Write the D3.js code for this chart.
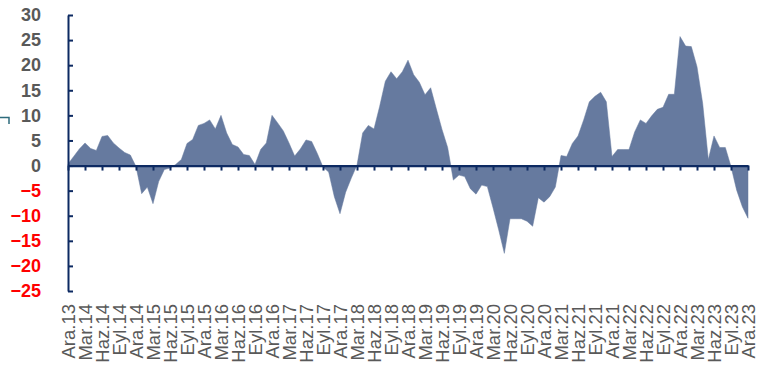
<!DOCTYPE html>
<html>
<head>
<meta charset="utf-8">
<script src="https://cdn.jsdelivr.net/npm/d3@7"></script>
<style>
  html, body { margin: 0; padding: 0; background: #ffffff; }
  svg { display: block; }
  .y-axis text { font-family: "Liberation Sans", Arial, sans-serif; font-weight: bold; font-size: 18px; }
  .x-labels text { font-family: "Liberation Sans", Arial, sans-serif; font-size: 18.5px; fill: #595959; }
</style>
</head>
<body>
<svg id="chart" width="774" height="368"></svg>
<script>
// Monthly values, Ara.13 through Ara.23
const values = [
  0.3, 1.8, 3.3, 4.5, 3.4, 3.0, 5.8, 6.0, 4.5, 3.5, 2.6, 2.1,
  -0.2, -5.6, -4.3, -7.6, -3.2, -0.8, -0.5, 0.2, 1.2, 4.4, 5.2, 8.0,
  8.4, 9.1, 7.3, 10.0, 6.5, 4.2, 3.7, 2.2, 2.0, 0.2, 3.2, 4.5,
  10.0, 8.5, 6.9, 4.5, 1.9, 3.3, 5.1, 4.8, 2.4, -0.3, -1.3, -6.2,
  -9.6, -5.3, -2.5, 0.1, 6.5, 8.0, 7.3, 11.8, 16.8, 18.7, 17.3, 18.7,
  21.0, 18.1, 16.6, 14.1, 15.5, 11.3, 7.2, 3.6, -2.9, -1.9, -2.2, -4.6,
  -5.7, -3.9, -4.2, -8.4, -12.8, -17.5, -10.6, -10.6, -10.6, -11.1, -12.1, -6.4,
  -7.3, -6.2, -4.3, 2.0, 1.8, 4.4, 5.9, 9.1, 12.7, 13.8, 14.6, 12.7,
  1.8, 3.2, 3.2, 3.2, 6.7, 9.1, 8.4, 9.9, 11.2, 11.6, 14.2, 14.2,
  25.7, 23.8, 23.7, 19.7, 12.4, 1.2, 5.9, 3.6, 3.6, -0.2, -4.9, -8.2,
  -10.5
];

// Turkish month abbreviations and the years covered
const monthNames = ["Oca", "Şub", "Mar", "Nis", "May", "Haz", "Tem", "Ağu", "Eyl", "Eki", "Kas", "Ara"];
const years = ["13", "14", "15", "16", "17", "18", "19", "20", "21", "22", "23"];

// Quarterly axis labels
const tickLabels = [
  "Ara.13",
  "Mar.14", "Haz.14", "Eyl.14", "Ara.14",
  "Mar.15", "Haz.15", "Eyl.15", "Ara.15",
  "Mar.16", "Haz.16", "Eyl.16", "Ara.16",
  "Mar.17", "Haz.17", "Eyl.17", "Ara.17",
  "Mar.18", "Haz.18", "Eyl.18", "Ara.18",
  "Mar.19", "Haz.19", "Eyl.19", "Ara.19",
  "Mar.20", "Haz.20", "Eyl.20", "Ara.20",
  "Mar.21", "Haz.21", "Eyl.21", "Ara.21",
  "Mar.22", "Haz.22", "Eyl.22", "Ara.22",
  "Mar.23", "Haz.23", "Eyl.23", "Ara.23"
];

const yTicks = [-25, -20, -15, -10, -5, 0, 5, 10, 15, 20, 25, 30];

// Month categories: December 2013 onward, one per value
const categories = [];
years.forEach((yr, yi) => {
  monthNames.forEach((m, mi) => {
    if (yi === 0 && mi < 11) return;
    categories.push(m + "." + yr);
  });
});
const series = categories.slice(0, values.length).map((c, i) => ({ c, v: values[i] }));

const svg = d3.select("#chart");
const axisColor = "#0d2a62";
const fillColor = "#667a9f";

const x = d3.scalePoint().domain(series.map(d => d.c)).range([68, 748]);
const y = d3.scaleLinear().domain([-25, 30]).range([291, 15]);

// Filled area against the zero line
const area = d3.area()
  .x(d => x(d.c))
  .y0(y(0))
  .y1(d => y(d.v));

svg.append("path")
  .datum(series)
  .attr("d", area)
  .attr("fill", fillColor)
  .attr("stroke", fillColor)
  .attr("stroke-width", 0.5);

// Vertical value axis with inward ticks
const yAxis = svg.append("g")
  .attr("class", "y-axis")
  .attr("transform", "translate(68,0)")
  .call(d3.axisLeft(y).tickValues(yTicks).tickSizeInner(-5).tickSizeOuter(0).tickPadding(27));
yAxis.select(".domain").attr("stroke", axisColor).attr("stroke-width", 2);
yAxis.selectAll(".tick line").attr("stroke", axisColor).attr("stroke-width", 2);
yAxis.selectAll(".tick text")
  .attr("fill", d => d < 0 ? "#ff0000" : "#595959");

// Zero line with downward quarterly ticks
const xAxis = svg.append("g")
  .attr("transform", `translate(0,${y(0)})`)
  .call(d3.axisBottom(x).tickValues(tickLabels).tickSizeInner(5).tickSizeOuter(0).tickFormat(""));
xAxis.select(".domain").attr("stroke", axisColor).attr("stroke-width", 2.2);
xAxis.selectAll(".tick line").attr("stroke", axisColor).attr("stroke-width", 2);

// Rotated category labels beneath the plot
const xLabels = svg.append("g")
  .attr("class", "x-labels")
  .attr("transform", "translate(0,304)")
  .call(d3.axisBottom(x).tickValues(tickLabels).tickSize(0).tickPadding(0));
xLabels.select(".domain").remove();
xLabels.selectAll(".tick text")
  .attr("transform", "rotate(-90)")
  .attr("text-anchor", "end")
  .attr("x", 0)
  .attr("y", 0)
  .attr("dy", "0.36em")
  .attr("fill", "#595959");

// Small bracket mark at the left edge
svg.append("path")
  .attr("d", d3.line()([[0, 117.5], [9, 117.5], [9, 124]]))
  .attr("fill", "none")
  .attr("stroke", "#2e6b7c")
  .attr("stroke-width", 1.5);
</script>
</body>
</html>
